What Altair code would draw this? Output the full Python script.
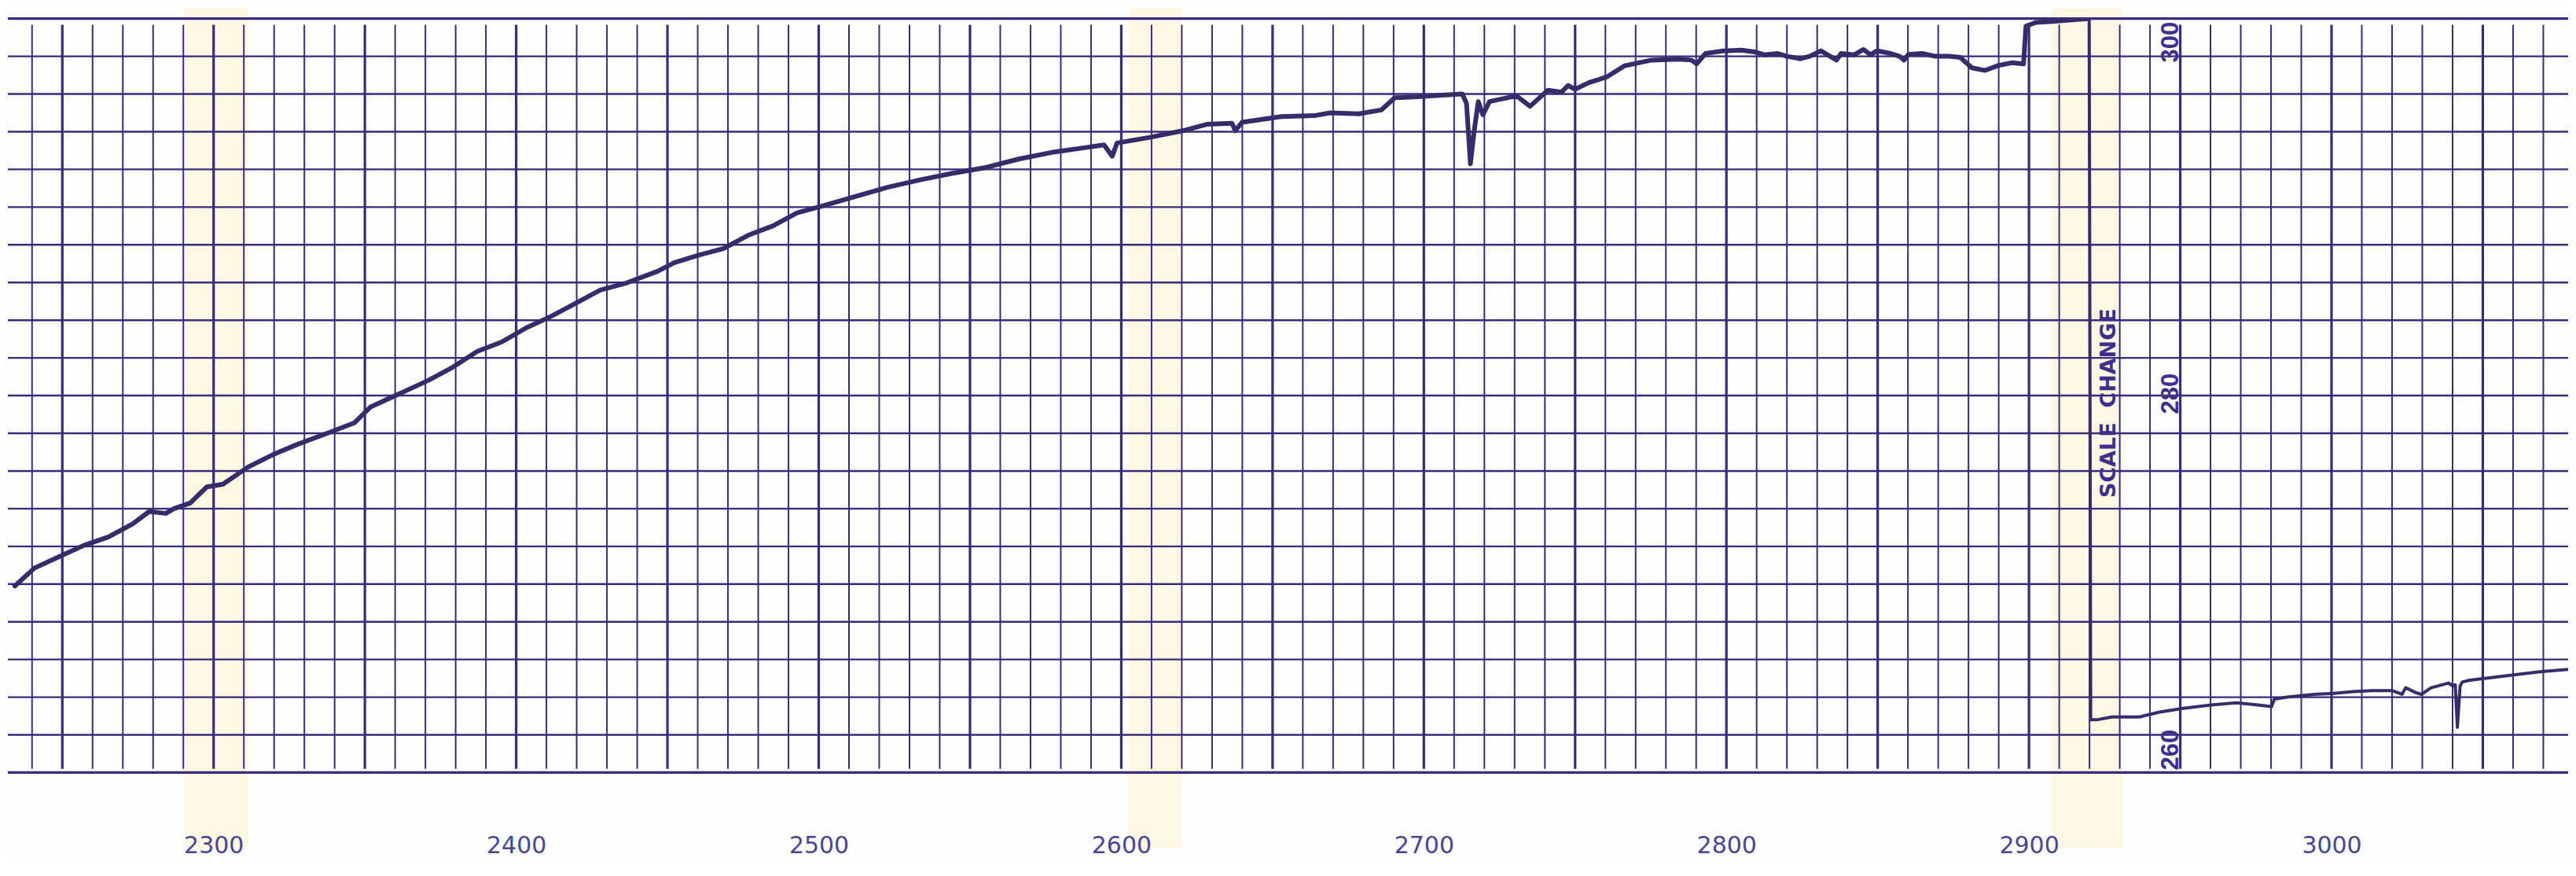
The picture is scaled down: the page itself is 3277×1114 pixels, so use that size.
import altair as alt
import pandas as pd

# ---- plot extent (chart units on x, scale reading on y) ----
X_MIN, X_MAX = 2232.0, 3078.2
Y_MIN, Y_MAX = 260, 300

# ---- recorder trace before the scale change ----
left_x = [2234.3, 2240.8, 2248.9, 2257.1, 2265.2, 2273.3, 2278.7, 2284.2, 2286.9, 2292.3,
          2297.7, 2303.1, 2311.3, 2319.4, 2327.5, 2338.4, 2346.5, 2351.9, 2360.1, 2370.9,
          2379.0, 2387.2, 2395.3, 2403.4, 2411.5, 2419.7, 2427.8, 2436.0, 2446.8, 2452.2,
          2460.4, 2468.5, 2476.6, 2484.8, 2492.9, 2501.0, 2511.9, 2522.8, 2533.6, 2544.4,
          2555.3, 2566.1, 2577.0, 2587.8, 2594.3, 2597.0, 2598.6, 2609.5, 2620.3, 2628.5,
          2636.6, 2637.7, 2639.9, 2652.9, 2663.7, 2669.1, 2678.5, 2685.9, 2690.4, 2697.8,
          2707.1, 2712.7, 2714.1, 2715.4, 2716.6, 2718.0, 2719.5, 2721.7, 2730.6, 2735.1,
          2741.0, 2745.5, 2747.7, 2750.0, 2754.5, 2760.4, 2766.4, 2775.3, 2784.2, 2788.4,
          2790.2, 2793.1, 2799.1, 2805.1, 2809.6, 2812.5, 2817.0, 2820.0, 2824.5, 2827.5,
          2831.2, 2833.4, 2836.4, 2837.9, 2842.3, 2845.3, 2847.6, 2849.8, 2854.3, 2857.2,
          2858.7, 2860.2, 2864.7, 2869.1, 2873.6, 2877.3, 2881.1, 2885.5, 2890.0, 2894.5,
          2898.2, 2899.0, 2902.3, 2907.7, 2915.8, 2919.6]
left_y = [269.9, 270.85, 271.45, 272.05, 272.5, 273.2, 273.85, 273.75, 274.0, 274.3,
          275.15, 275.3, 276.2, 276.85, 277.4, 278.05, 278.55, 279.4, 280.0, 280.8,
          281.5, 282.35, 282.85, 283.6, 284.2, 284.9, 285.6, 285.95, 286.6, 287.05,
          287.45, 287.8, 288.5, 289.0, 289.7, 290.05, 290.55, 291.05, 291.45, 291.8,
          292.1, 292.55, 292.9, 293.15, 293.3, 292.7, 293.4, 293.7, 294.05, 294.4,
          294.45, 294.05, 294.5, 294.8, 294.85, 295.0, 294.95, 295.15, 295.8, 295.85,
          295.95, 296.0, 295.5, 292.3, 294.0, 295.6, 294.9, 295.6, 295.9, 295.35,
          296.2, 296.1, 296.45, 296.25, 296.6, 296.9, 297.5, 297.8, 297.85, 297.8,
          297.6, 298.15, 298.29, 298.33, 298.22, 298.08, 298.15, 298.0, 297.87, 298.0,
          298.29, 298.08, 297.8, 298.15, 298.08, 298.36, 298.08, 298.29, 298.15, 298.0,
          297.8, 298.1, 298.15, 298.0, 298.0, 297.94, 297.39, 297.25, 297.52, 297.66,
          297.6, 299.6, 299.8, 299.85, 299.95, 300.0]

# ---- recorder trace after the scale change ----
right_x = [2919.9, 2920.4, 2922.3, 2927.5, 2936.5, 2942.9, 2950.6, 2960.9, 2968.6, 2975.0,
           2980.2, 2981.1, 2985.3, 2994.3, 3000.8, 3007.2, 3013.6, 3020.0, 3023.3, 3024.5,
           3027.7, 3029.7, 3032.9, 3038.7, 3040.0, 3040.9, 3041.6, 3042.5, 3043.2, 3045.7,
           3058.6, 3068.9, 3080.2]
right_y = [300.0, 262.8, 262.8, 262.95, 262.95, 263.2, 263.4, 263.6, 263.7, 263.6,
           263.5, 263.9, 264.0, 264.15, 264.2, 264.3, 264.35, 264.35, 264.15, 264.5,
           264.25, 264.15, 264.5, 264.75, 264.6, 264.65, 262.4, 264.6, 264.8, 264.9,
           265.15, 265.35, 265.5]

# ---- chart paper ----
minor_x = [v for v in range(2240, 3071, 10) if v % 50]
major_x = list(range(2250, 3071, 50))
inner_y = list(range(262, 299, 2))
border_y = [260, 300]
tick_labels = list(range(2300, 3001, 100))
band_x0 = [2290.5, 2602.5, 2907.5]
band_x1 = [2311.5, 2620.0, 2931.0]
RULE_BOTTOM, RULE_TOP = 260.2, 299.67   # vertical rulings stop just short of the borders
BAND_BOTTOM, BAND_TOP = 256.0, 300.55

scale_text = ["300", "280", "260"]
scale_text_y = [298.75, 280.1, 261.2]
scale_text_x = [2947.0, 2947.0, 2947.0]
note_text = ["SCALE\u00a0\u00a0CHANGE"]
note_x = [2926.4]
note_y = [279.6]

GRID = "#3a2a7c"
INK = "#372c6a"

xs = alt.Scale(domain=[X_MIN, X_MAX], nice=False, zero=False)
ys = alt.Scale(domain=[Y_MIN, Y_MAX], nice=False, zero=False)
x_axis = alt.Axis(values=tick_labels, grid=False, ticks=False, tickSize=0, domain=False,
                  labelPadding=93, labelFontSize=30, labelFont="DejaVu Sans",
                  labelColor="#4a4690", labelBaseline="middle", title=None, format="d",
                  zindex=1)

band_df = pd.DataFrame({"x": band_x0, "x2": band_x1,
                        "y": [BAND_BOTTOM] * len(band_x0), "y2": [BAND_TOP] * len(band_x0)})
bands = alt.Chart(band_df).mark_rect(color="#fdf7e3", clip=False).encode(
    x=alt.X("x:Q", scale=xs, axis=x_axis), x2="x2:Q",
    y=alt.Y("y:Q", scale=ys, axis=None), y2="y2:Q",
)

h_inner = alt.Chart(pd.DataFrame({"y": inner_y})).mark_rule(color=GRID, strokeWidth=2.4).encode(
    y=alt.Y("y:Q", scale=ys, axis=None)
)
h_border = alt.Chart(pd.DataFrame({"y": border_y})).mark_rule(color=GRID, strokeWidth=3.2).encode(
    y=alt.Y("y:Q", scale=ys, axis=None)
)

minor_df = pd.DataFrame({"x": minor_x, "y": [RULE_BOTTOM] * len(minor_x), "y2": [RULE_TOP] * len(minor_x)})
major_df = pd.DataFrame({"x": major_x, "y": [RULE_BOTTOM] * len(major_x), "y2": [RULE_TOP] * len(major_x)})
v_minor = alt.Chart(minor_df).mark_rule(color=GRID, strokeWidth=2.0).encode(
    x=alt.X("x:Q", scale=xs, axis=x_axis),
    y=alt.Y("y:Q", scale=ys, axis=None), y2="y2:Q",
)
v_major = alt.Chart(major_df).mark_rule(color=GRID, strokeWidth=3.2).encode(
    x=alt.X("x:Q", scale=xs, axis=x_axis),
    y=alt.Y("y:Q", scale=ys, axis=None), y2="y2:Q",
)

trace_left = alt.Chart(pd.DataFrame({"x": left_x, "y": left_y})).mark_line(
    color=INK, strokeWidth=6, clip=True, strokeJoin="round", strokeCap="round"
).encode(
    x=alt.X("x:Q", scale=xs, axis=x_axis), y=alt.Y("y:Q", scale=ys, axis=None)
)
trace_right = alt.Chart(pd.DataFrame({"x": right_x, "y": right_y})).mark_line(
    color=INK, strokeWidth=4, clip=True, strokeJoin="round"
).encode(
    x=alt.X("x:Q", scale=xs, axis=x_axis), y=alt.Y("y:Q", scale=ys, axis=None)
)

scale_labels = alt.Chart(pd.DataFrame({"x": scale_text_x, "y": scale_text_y, "t": scale_text})).mark_text(
    angle=270, align="center", baseline="middle", font="Liberation Sans", fontWeight="bold",
    fontSize=31, color="#3f2f8a"
).encode(
    x=alt.X("x:Q", scale=xs, axis=x_axis), y=alt.Y("y:Q", scale=ys, axis=None), text="t:N"
)
note = alt.Chart(pd.DataFrame({"x": note_x, "y": note_y, "t": note_text})).mark_text(
    angle=270, align="center", baseline="middle", font="DejaVu Sans", fontWeight="bold",
    fontSize=27, color="#3f2f8a"
).encode(
    x=alt.X("x:Q", scale=xs, axis=x_axis), y=alt.Y("y:Q", scale=ys, axis=None), text="t:N"
)

chart = alt.layer(
    bands, h_inner, h_border, v_minor, v_major, trace_left, trace_right, scale_labels, note
).properties(
    width=3261, height=960,
    padding={"left": 0, "right": 0, "top": 1, "bottom": 4},
    background="#fefefc",
).configure_view(stroke=None)

chart.save("out.html", embed_options={"renderer": "svg", "actions": False})
